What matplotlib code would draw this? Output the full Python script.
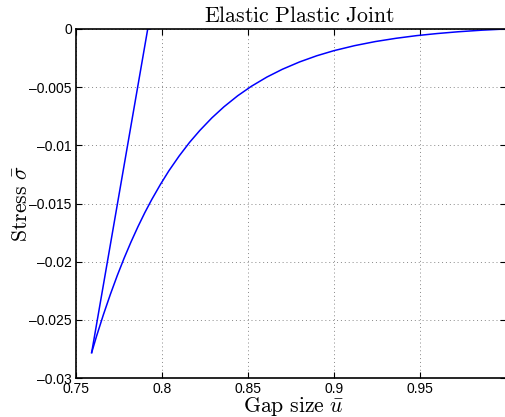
import matplotlib
matplotlib.use('Agg')
import matplotlib.pyplot as plt

matplotlib.rcParams['mathtext.fontset'] = 'cm'
matplotlib.rcParams['font.family'] = ['Liberation Sans', 'DejaVu Sans']

# elastic branch (straight unloading line)
u_elastic = [0.7591, 0.7917, 0.7930]
s_elastic = [-0.02782, 0.0, 0.0]

# plastic branch
u_plastic = [0.7591, 0.7620, 0.7659, 0.7700, 0.7740, 0.7780, 0.7820, 0.7860, 0.7900,
             0.7940, 0.7990, 0.8040, 0.8100, 0.8160, 0.8220, 0.8290, 0.8360, 0.8440,
             0.8520, 0.8610, 0.8700, 0.8800, 0.8900, 0.9000, 0.9120, 0.9240, 0.9360,
             0.9480, 0.9600, 0.9720, 0.9860, 1.0]
s_plastic = [-0.02782, -0.02638, -0.02457, -0.02280, -0.02119, -0.01969, -0.01830,
             -0.01700, -0.01579, -0.01467, -0.01338, -0.01219, -0.01091, -0.00975,
             -0.00872, -0.00764, -0.00669, -0.00574, -0.00492, -0.00413, -0.00346,
             -0.00283, -0.00230, -0.00186, -0.00143, -0.00108, -0.00080, -0.00057,
             -0.00039, -0.00024, -0.00010, 0.0]

xticks = [0.75, 0.8, 0.85, 0.9, 0.95, 1.0]
xticklabels = ['0.75', '0.8', '0.85', '0.9', '0.95', '']
yticks = [-0.03, -0.025, -0.02, -0.015, -0.01, -0.005, 0]
yticklabels = ['\u20130.03', '\u20130.025', '\u20130.02', '\u20130.015', '\u20130.01', '\u20130.005', '0']

fig = plt.figure(figsize=(5.05, 4.17), dpi=100)
ax = fig.add_axes([76 / 505, 39 / 417, 430 / 505, 349 / 417])

ax.plot(u_elastic, s_elastic, color='#0000ff', lw=1.1)
ax.plot(u_plastic, s_plastic, color='#0000ff', lw=1.1)

ax.set_xlim(0.75, 1.0)
ax.set_ylim(-0.03, 0)
ax.set_xticks(xticks)
ax.set_xticklabels(xticklabels)
ax.set_yticks(yticks)
ax.set_yticklabels(yticklabels)
ax.tick_params(direction='in', length=4, width=0.8, labelsize=10, top=True, right=True, pad=3)
ax.grid(True, linestyle=(0, (1, 3)), color='#888888', linewidth=0.7)
for sp in ax.spines.values():
    sp.set_linewidth(1.2)

ax.set_title(r'$\mathrm{Elastic\ Plastic\ Joint}$', fontsize=15.7, pad=5, x=0.519)
ax.set_xlabel(r'$\mathrm{Gap\ size}\ \bar{u}$', fontsize=15.7, labelpad=-1, x=0.506)
ax.set_ylabel(r'$\mathrm{Stress}\ \bar{\sigma}$', fontsize=15.7)
ax.yaxis.set_label_coords(-0.102, 0.5)

fig.savefig('out.png', dpi=100)
